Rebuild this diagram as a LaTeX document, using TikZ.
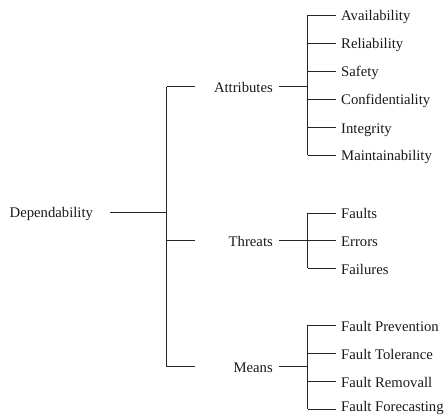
\documentclass[tikz,border=0pt]{standalone}
\usepackage{fontspec}
\setmainfont{Liberation Serif}
\begin{document}
\begin{tikzpicture}[x=1pt,y=-1pt,
    tree/.style={line width=0.8pt, draw=black!85},
    lbl/.style={font=\fontsize{14.7}{17}\selectfont, inner sep=0pt, text=black!90},
    leaf/.style={lbl, anchor=base west},
    mid/.style={lbl, anchor=base east}]
\useasboundingbox (0,0) rectangle (446,415);

% root
\node[lbl, anchor=base west] (dep) at (9.5,217.7) {Dependability};
\coordinate (depE) at (110,212.2);
\coordinate (rootV) at (166.5,212.2);
\draw[tree] (depE) -- (rootV);

% main spine and arms to the three groups
\coordinate (spineTop) at (166.5,86.5);
\coordinate (spineBot) at (166.5,366.5);
\draw[tree] (spineTop) -- (spineBot);
\coordinate (armA) at (195,86.5);
\coordinate (armT) at (195,240.5);
\coordinate (armM) at (195,366.5);
\draw[tree] (spineTop) -- (armA);
\draw[tree] (spineTop |- armT) -- (armT);
\draw[tree] (spineBot) -- (armM);

% group labels
\node[mid] (attr) at (273,92) {Attributes};
\node[mid] (thr)  at (273,246) {Threats};
\node[mid] (mns)  at (273,372.5) {Means};

% group connectors into the second-level spines
\coordinate (attrS) at (279,86.5);   \coordinate (attrV) at (307.5,86.5);
\coordinate (thrS)  at (279,240.5);  \coordinate (thrV)  at (307.5,240.5);
\coordinate (mnsS)  at (279,366.5);  \coordinate (mnsV)  at (307.5,366.5);
\draw[tree] (attrS) -- (attrV);
\draw[tree] (thrS) -- (thrV);
\draw[tree] (mnsS) -- (mnsV);

% leaves: line y / baseline offset / name / text
\foreach \ly/\off/\nm/\txt in {15/5.7/a1/Availability, 43/5.7/a2/Reliability, 71/5.7/a3/Safety,
                      99/5.7/a4/Confidentiality, 127.3/5.7/a5/Integrity, 155/5.7/a6/Maintainability} {
  \coordinate (\nm e) at (336,\ly);
  \node[leaf] (\nm) at (341,\ly+\off) {\txt};
  \draw[tree] (attrV |- \nm e) -- (\nm e);
}
\draw[tree] (attrV |- a1e) -- (attrV |- a6e);

\foreach \ly/\off/\nm/\txt in {213/5.7/t1/Faults, 240.5/5.7/t2/Errors, 268.3/5.7/t3/Failures} {
  \coordinate (\nm e) at (336,\ly);
  \node[leaf] (\nm) at (341,\ly+\off) {\txt};
  \draw[tree] (thrV |- \nm e) -- (\nm e);
}
\draw[tree] (thrV |- t1e) -- (thrV |- t3e);

\foreach \ly/\off/\nm/\txt in {325/6.5/m1/Fault Prevention, 353/6.5/m2/Fault Tolerance,
                      381/6.5/m3/Fault Removall, 409/2.6/m4/Fault Forecasting} {
  \coordinate (\nm e) at (336,\ly);
  \node[leaf] (\nm) at (341,\ly+\off) {\txt};
  \draw[tree] (mnsV |- \nm e) -- (\nm e);
}
\draw[tree] (mnsV |- m1e) -- (mnsV |- m4e);
\end{tikzpicture}
\end{document}
